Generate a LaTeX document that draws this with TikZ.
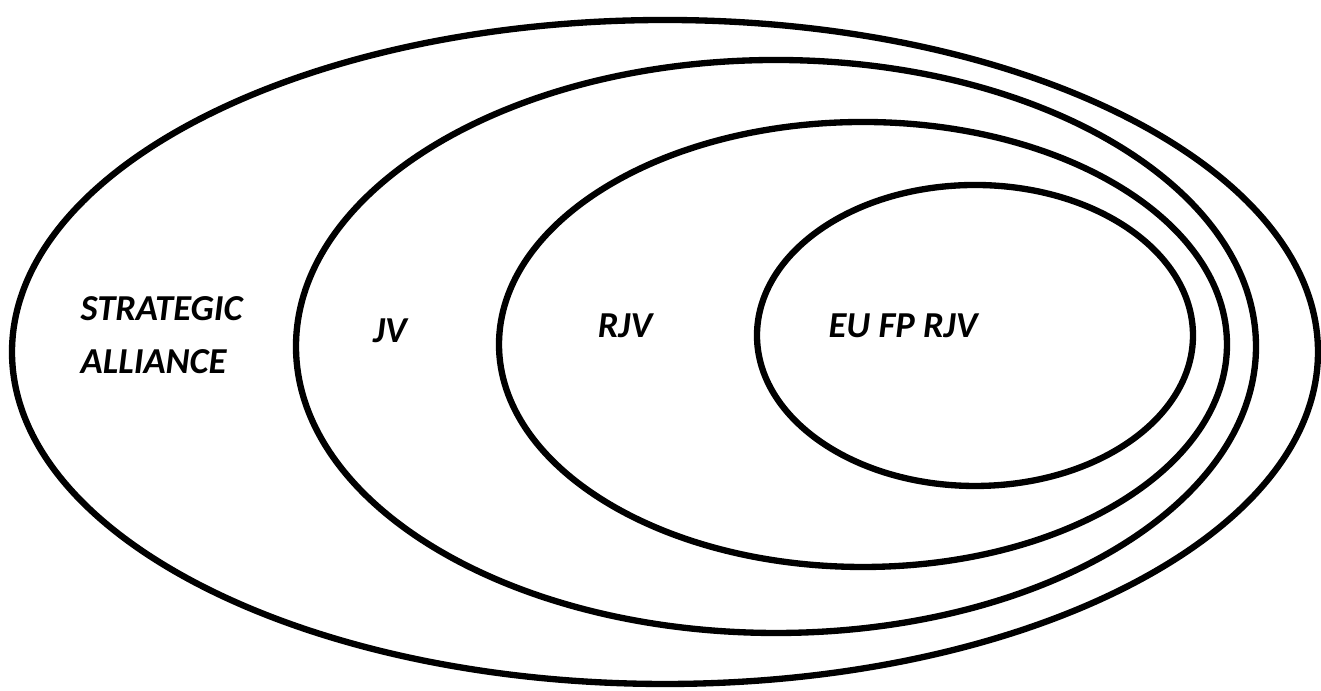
\documentclass[tikz,border=0pt]{standalone}
\usepackage{fontspec}
\setmainfont{Carlito}
\usepackage{tikz}
\usetikzlibrary{shapes.geometric, positioning}

\begin{document}
\begin{tikzpicture}[
    set/.style={ellipse, draw=black, line width=1.8pt, inner sep=0pt, outer sep=0pt},
    setlabel/.style={font=\fontsize{10.4}{15}\selectfont\bfseries\itshape, inner sep=0pt, align=left}
]
\useasboundingbox (0,0) rectangle (13.21,6.91);
\node[set, minimum width=13.06cm, minimum height=6.64cm] (alliance) at (6.65,3.39) {};
\node[set, minimum width=9.60cm, minimum height=5.73cm] (jv) at (7.76,3.445) {};
\node[set, minimum width=7.28cm, minimum height=4.45cm] (rjv) at (8.63,3.465) {};
\node[set, minimum width=4.36cm, minimum height=3.01cm] (eufp) at (9.75,3.555) {};
\node[setlabel, anchor=west] (lalliance) at (0.80,3.56) {STRATEGIC\\ALLIANCE};
\node[setlabel, anchor=base] (ljv) at (3.90,3.48) {JV};
\node[setlabel, anchor=base] (lrjv) at (6.25,3.53) {RJV};
\node[setlabel, anchor=base] (leufp) at (9.03,3.53) {EU FP RJV};
\end{tikzpicture}
\end{document}
